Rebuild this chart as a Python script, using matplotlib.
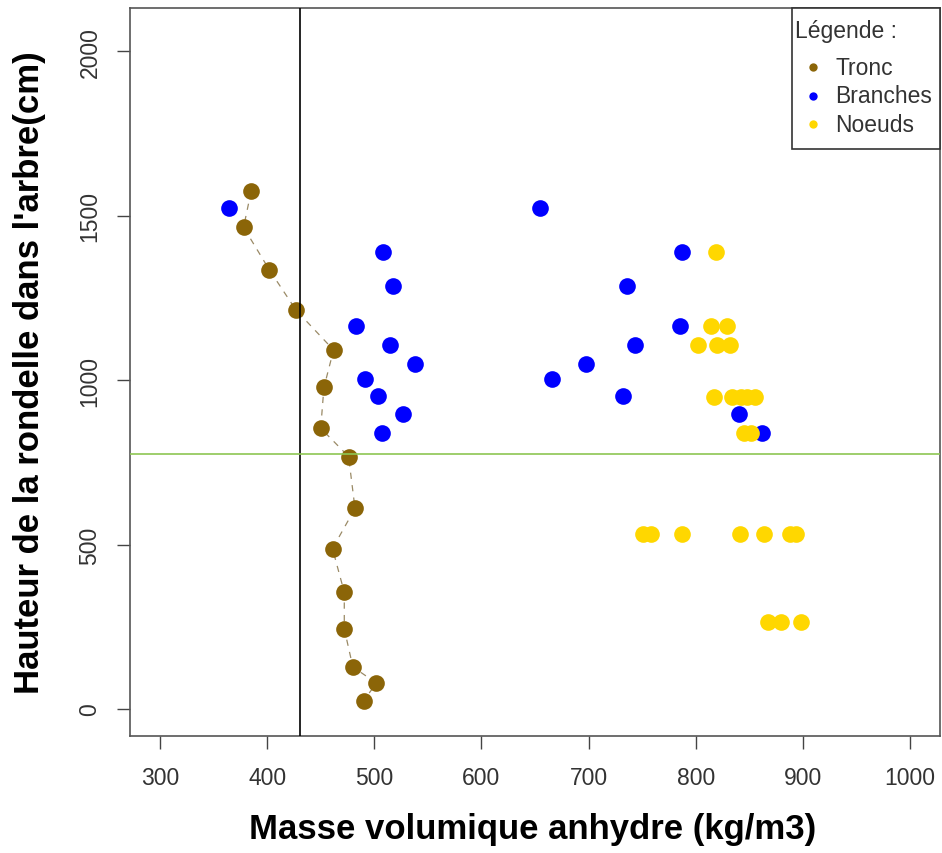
import matplotlib
matplotlib.use("Agg")
import matplotlib.pyplot as plt
from matplotlib.patches import Rectangle

plt.rcParams['font.family'] = ['Liberation Sans', 'DejaVu Sans']

# ---- data ----
tronc_x = [385, 378, 402, 427, 462, 453, 450, 476, 482, 461, 472, 472, 480, 502, 490]
tronc_y = [1574, 1465, 1336, 1213, 1092, 978, 854, 768, 610, 488, 355, 244, 128, 79, 25]

branch_heights = [1523, 1389, 1286, 1166, 1107, 1049, 1005, 951, 897, 839]
branch_low = [364, 508, 517, 483, 515, 538, 491, 503, 527, 507]
branch_high = [655, 787, 736, 785, 743, 698, 666, 732, 840, 862]

noeud_x = [819,
           814, 829,
           802, 820, 832,
           817, 834, 842, 848, 855,
           845, 852,
           751, 758, 787, 841, 864, 888, 894,
           867, 880, 898]
noeud_y = [1389,
           1165, 1165,
           1107, 1107, 1107,
           950, 950, 950, 950, 950,
           839, 839,
           531, 531, 531, 531, 531, 531, 531,
           266, 266, 266]

vline_x = 431
hline_y = 777

x_ticks = [300, 400, 500, 600, 700, 800, 900, 1000]
y_ticks = [0, 500, 1000, 1500, 2000]
legend_labels = ["Tronc", "Branches", "Noeuds"]

c_tronc = "#8B6508"
c_branch = "#0000FF"
c_noeud = "#FFD700"

W, H = 942, 854
fig = plt.figure(figsize=(W / 100, H / 100), dpi=100)
L, R, T, B = 130, 940, 9, 737
ax = fig.add_axes([L / W, 1 - B / H, (R - L) / W, (B - T) / H])

ax.plot(tronc_x, tronc_y, color="#9A8A66", lw=0.9, dashes=(5, 5), zorder=2)
ax.plot(tronc_x, tronc_y, 'o', color=c_tronc, ms=12, mew=0, zorder=3)
bx = branch_low + branch_high
by = branch_heights + branch_heights
ax.plot(bx, by, 'o', color=c_branch, ms=12, mew=0, zorder=3)
ax.plot(noeud_x, noeud_y, 'o', color=c_noeud, ms=12, mew=0, zorder=3)

ax.axvline(vline_x, color="black", lw=1.2, zorder=4)
ax.axhline(hline_y, color="#8DC653", lw=1.2, zorder=4)

ax.set_xlim(272, 1028)
ax.set_ylim(-82, 2132)
ax.set_xticks(x_ticks)
ax.set_yticks(y_ticks)
ax.set_xticklabels([str(v) for v in x_ticks])
ax.set_yticklabels([str(v) for v in y_ticks], rotation=90, va='center')
ax.tick_params(axis='both', length=9.5, width=1, color="#444444",
               labelsize=16.5, labelcolor="#333333")
ax.tick_params(axis='x', pad=12)
ax.tick_params(axis='y', pad=11)
for s in ax.spines.values():
    s.set_color("#555555")
    s.set_linewidth(1.2)

# legend (drawn manually)
def ax_pt(px, py):
    return ((px - L) / (R - L), (B - py) / (B - T))

x0, y0 = ax_pt(791.7, 150)
ax.add_patch(Rectangle((x0, y0), 1 - x0, 1 - y0, transform=ax.transAxes,
                       facecolor="white", edgecolor="#333333", lw=1.2,
                       zorder=5, clip_on=False))
tx, ty = ax_pt(795, 31.7)
ax.text(tx, ty, "Légende :", transform=ax.transAxes, ha='left', va='center',
        fontsize=16.5, color="#333333", zorder=6)
for lab, col, py in zip(legend_labels, [c_tronc, c_branch, c_noeud], [68.3, 96.7, 125]):
    mx, my = ax_pt(813.3, py)
    ax.plot([mx], [my], 'o', color=col, ms=6, mew=0, transform=ax.transAxes,
            zorder=6, clip_on=False)
    lx, ly = ax_pt(835, py)
    ax.text(lx, ly, lab, transform=ax.transAxes, ha='left', va='center',
            fontsize=16.5, color="#333333", zorder=6)

fig.text(533 / W, 1 - 829.5 / H, "Masse volumique anhydre (kg/m3)",
         ha='center', va='center', fontsize=25, fontweight='bold')
fig.text(30 / W, 1 - 373 / H, "Hauteur de la rondelle dans l'arbre(cm)",
         ha='center', va='center', rotation=90, fontsize=25, fontweight='bold')

fig.savefig("out.png", dpi=100, facecolor="white")
